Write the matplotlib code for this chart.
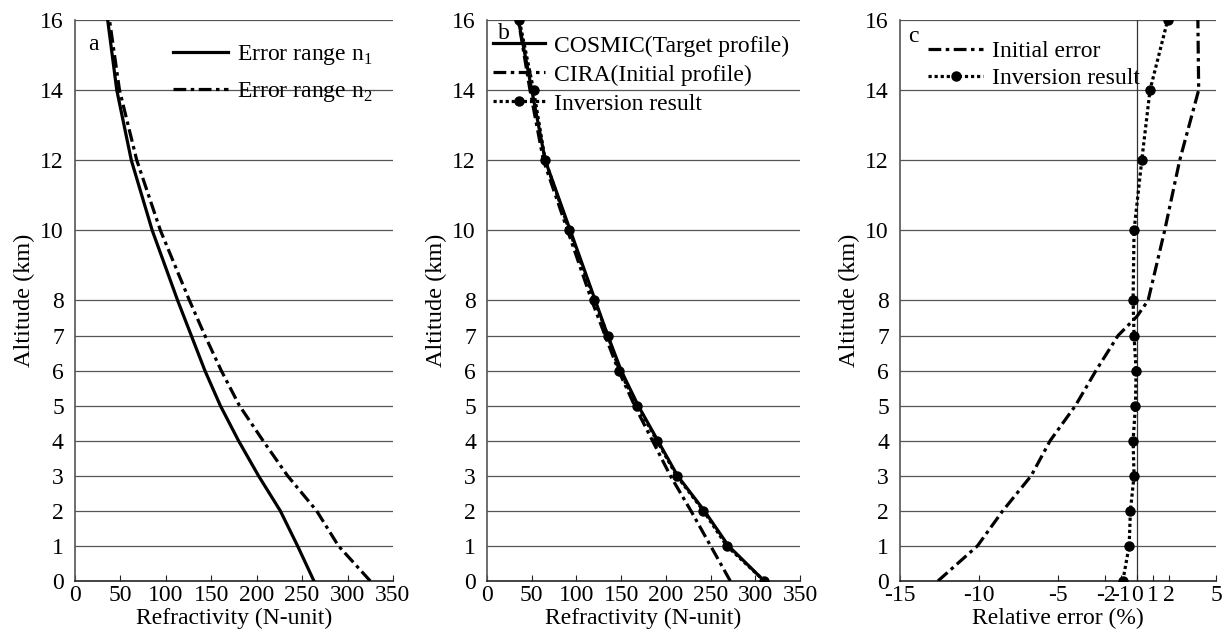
import numpy as np
import matplotlib
matplotlib.use("Agg")
import matplotlib.pyplot as plt

plt.rcParams["font.family"] = ["Liberation Serif", "DejaVu Serif"]
plt.rcParams["axes.unicode_minus"] = False
plt.rcParams["mathtext.fontset"] = "custom"
plt.rcParams["mathtext.rm"] = "Liberation Serif"

# altitude levels (km)
alt = [0, 1, 2, 3, 4, 5, 6, 7, 8, 10, 12, 14, 16]
alt_ticks = [0, 1, 2, 3, 4, 5, 6, 7, 8, 10, 12, 14, 16]

# panel a: refractivity for two error ranges
n1_range = [263, 245, 226, 202, 180, 160, 143, 128, 113, 85, 62, 46, 36]
n2_range = [325, 290, 266, 234, 207, 181, 161, 143, 126, 94, 68, 49, 38]

# panel b: profiles
cosmic = [310, 270, 243, 213, 191, 169, 150, 135, 121, 93, 65, 50, 35]
cira = [272, 250, 228, 205, 185, 165, 147, 132, 117, 90, 63, 48, 35]
inversion = [310, 268, 242, 212, 190, 168, 148, 135, 120, 92, 65, 52, 36]

# panel c: relative error (%)
alt_init = [0, 1, 2, 3, 4, 5, 6, 7, 7.55, 8, 10, 12, 14, 16]
init_err = [-12.6, -10.1, -8.5, -6.7, -5.5, -3.9, -2.6, -1.2, 0.0, 0.7, 1.75, 2.7, 3.9, 3.85]
inv_err = [-0.9, -0.5, -0.42, -0.19, -0.25, -0.1, -0.06, -0.19, -0.25, -0.19, 0.3, 0.82, 1.94]
err_ticks = [-15, -10, -5, -2, -1, 0, 1, 2, 5]

FS = 17
GRID = "#555555"
DASHDOT = (0, (4, 1.4, 1.1, 1.4))
DOTTED = (0, (1, 0.9))


def style_axes(ax):
    ax.set_ylim(0, 16)
    ax.set_yticks(alt_ticks)
    ax.set_yticklabels([str(t) for t in alt_ticks])
    for t in alt_ticks[1:]:
        ax.axhline(t, color=GRID, lw=0.9, zorder=1)
    ax.spines["top"].set_visible(False)
    ax.spines["right"].set_visible(False)
    ax.spines["left"].set_color(GRID)
    ax.spines["left"].set_linewidth(1.2)
    ax.spines["bottom"].set_color("#222222")
    ax.spines["bottom"].set_linewidth(1.2)
    ax.tick_params(axis="y", length=0, pad=8, labelsize=FS)
    ax.tick_params(axis="x", direction="in", length=4, pad=3, labelsize=FS, color="#222222")
    ax.set_ylabel("Altitude (km)", fontsize=FS + 0.5, labelpad=4)


fig = plt.figure(figsize=(12.25, 6.39), dpi=100)
ax_a = fig.add_axes([0.0612, 0.0908, 0.2596, 0.878])
ax_b = fig.add_axes([0.3976, 0.0908, 0.2555, 0.878])
ax_c = fig.add_axes([0.7347, 0.0908, 0.2580, 0.878])

for ax in (ax_a, ax_b, ax_c):
    style_axes(ax)

# panel a
ax_a.plot(n1_range, alt, color="black", lw=2.3, label="Error range n$_1$", zorder=3)
ax_a.plot(n2_range, alt, color="black", lw=2.3, ls=DASHDOT, label="Error range n$_2$", zorder=3)
ax_a.set_xlim(0, 350)
ax_a.set_xticks(range(0, 351, 50))
ax_a.set_xlabel("Refractivity (N-unit)", fontsize=FS, labelpad=1)
ax_a.text(0.04, 0.975, "a", transform=ax_a.transAxes, fontsize=FS, va="top")
ax_a.legend(loc="upper left", bbox_to_anchor=(0.28, 0.975), frameon=False, fontsize=FS,
            handlelength=2.3, handletextpad=0.4, labelspacing=0.55, borderaxespad=0)

# panel b
ax_b.plot(cosmic, alt, color="black", lw=2.3, label="COSMIC(Target profile)", zorder=3)
ax_b.plot(cira, alt, color="black", lw=2.3, ls=DASHDOT, label="CIRA(Initial profile)", zorder=3)
ax_b.plot(inversion, alt, color="black", lw=2.3, ls=DOTTED, marker="o", ms=6.5,
          label="Inversion result", zorder=4)
ax_b.set_xlim(0, 350)
ax_b.set_xticks(range(0, 351, 50))
ax_b.set_xlabel("Refractivity (N-unit)", fontsize=FS, labelpad=1)
ax_b.text(0.035, 0.995, "b", transform=ax_b.transAxes, fontsize=FS, va="top")
ax_b.legend(loc="upper left", bbox_to_anchor=(-0.01, 0.99), frameon=False, fontsize=FS,
            handlelength=2.2, handletextpad=0.35, labelspacing=0.32, borderaxespad=0)

# panel c
ax_c.axvline(0, color="#333333", lw=0.9, zorder=1)
ax_c.plot(init_err, alt_init, color="black", lw=2.3, ls=DASHDOT, label="Initial error", zorder=3)
ax_c.plot(inv_err, alt, color="black", lw=2.3, ls=DOTTED, marker="o", ms=6.5,
          label="Inversion result", zorder=4)
ax_c.set_xlim(-15, 5)
ax_c.set_xticks(err_ticks)
ax_c.set_xticklabels([str(t) for t in err_ticks])
ax_c.set_xlabel("Relative error (%)", fontsize=FS, labelpad=1)
ax_c.text(0.025, 0.99, "c", transform=ax_c.transAxes, fontsize=FS, va="top")
ax_c.legend(loc="upper left", bbox_to_anchor=(0.06, 0.98), frameon=False, fontsize=FS,
            handlelength=2.3, handletextpad=0.4, labelspacing=0.22, borderaxespad=0)

fig.savefig("out.png", dpi=100)
